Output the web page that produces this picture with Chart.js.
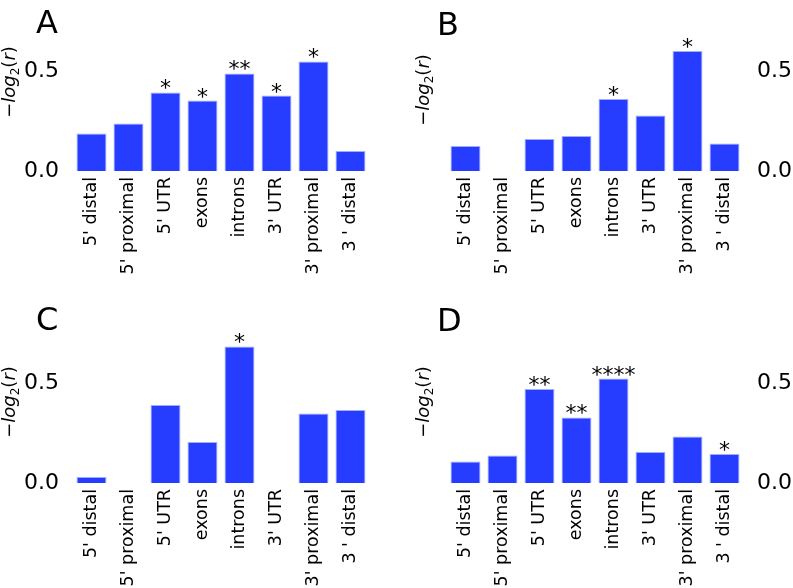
<!DOCTYPE html>
<html>
<head>
<meta charset="utf-8">
<script src="https://cdn.jsdelivr.net/npm/chart.js@4"></script>
<style>
  html, body { margin: 0; padding: 0; background: #fff; }
  #wrap { position: relative; width: 793px; height: 588px; overflow: hidden; font-family: "DejaVu Sans", sans-serif; }
  .panel { position: absolute; }
  .letter { position: absolute; font-size: 32px; color: #000; line-height: 1; }
  .ylab { position: absolute; font-size: 18px; color: #000; white-space: nowrap;
          transform: translate(-50%, -50%) rotate(-90deg); }
  .ylab sub { font-size: 12px; }
</style>
</head>
<body>
<div id="wrap">
  <div class="panel" style="left:0;top:0;width:393px;height:290px"><canvas id="chartA"></canvas></div>
  <div class="panel" style="left:393px;top:0;width:400px;height:290px"><canvas id="chartB"></canvas></div>
  <div class="panel" style="left:0;top:290px;width:393px;height:298px"><canvas id="chartC"></canvas></div>
  <div class="panel" style="left:393px;top:290px;width:400px;height:298px"><canvas id="chartD"></canvas></div>

  <div class="letter" style="left:36px;top:6px">A</div>
  <div class="letter" style="left:437px;top:8px">B</div>
  <div class="letter" style="left:36px;top:303px">C</div>
  <div class="letter" style="left:437px;top:304px">D</div>

  <div class="ylab" style="left:10px;top:82px">−<i>log</i><sub>2</sub>(<i>r</i>)</div>
  <div class="ylab" style="left:424px;top:90px">−<i>log</i><sub>2</sub>(<i>r</i>)</div>
  <div class="ylab" style="left:10px;top:402px">−<i>log</i><sub>2</sub>(<i>r</i>)</div>
  <div class="ylab" style="left:424px;top:402px">−<i>log</i><sub>2</sub>(<i>r</i>)</div>
</div>
<script>
var regions = ["5' distal", "5' proximal", "5' UTR", "exons", "introns", "3' UTR", "3' proximal", "3 ' distal"];

var valuesA = [0.187, 0.237, 0.393, 0.352, 0.488, 0.377, 0.548, 0.100];
var starsA  = ["", "", "*", "*", "**", "*", "*", ""];

var valuesB = [0.125, 0, 0.160, 0.175, 0.360, 0.278, 0.600, 0.137];
var starsB  = ["", "", "", "", "*", "", "*", ""];

var valuesC = [0.030, 0, 0.390, 0.205, 0.683, 0, 0.348, 0.365];
var starsC  = ["", "", "", "", "*", "", "", ""];

var valuesD = [0.107, 0.137, 0.470, 0.328, 0.522, 0.155, 0.232, 0.145];
var starsD  = ["", "", "**", "**", "****", "", "", "*"];

var yTicks = [0, 0.5];
var yMax = 0.7;
var barColor = "rgb(38,60,255)";

// draws significance stars above each bar
var starPlugin = {
    id: 'stars',
    afterDatasetsDraw: function (chart) {
        var stars = chart.options.plugins.stars.labels;
        var meta = chart.getDatasetMeta(0);
        var ctx = chart.ctx;
        ctx.save();
        ctx.font = '22px "DejaVu Sans"';
        ctx.fillStyle = '#000';
        ctx.textAlign = 'center';
        ctx.textBaseline = 'alphabetic';
        meta.data.forEach(function (bar, i) {
            if (stars[i]) ctx.fillText(stars[i], bar.x, bar.y + 3);
        });
        ctx.restore();
    }
};

function makeChart(id, values, stars, side, pad, axisH) {
    return new Chart(document.getElementById(id), {
        type: 'bar',
        data: {
            labels: regions,
            datasets: [{
                data: values,
                backgroundColor: barColor,
                borderColor: "rgba(150,165,255,0.9)",
                borderWidth: 1,
                barPercentage: 0.81,
                categoryPercentage: 1.0
            }]
        },
        options: {
            responsive: true,
            maintainAspectRatio: false,
            animation: false,
            layout: { padding: pad },
            plugins: {
                legend: { display: false },
                tooltip: { enabled: false },
                stars: { labels: stars }
            },
            scales: {
                x: {
                    grid: { display: false, drawTicks: false },
                    border: { display: false },
                    ticks: {
                        color: '#000',
                        font: { family: 'DejaVu Sans', size: 17.5 },
                        minRotation: 90,
                        maxRotation: 90,
                        autoSkip: false,
                        padding: 6
                    },
                    afterFit: function (scale) { scale.height = axisH; }
                },
                y: {
                    position: side,
                    min: 0,
                    max: yMax,
                    grid: { display: false, drawTicks: false },
                    border: { display: false },
                    afterBuildTicks: function (scale) {
                        scale.ticks = yTicks.map(function (v) { return { value: v }; });
                    },
                    ticks: {
                        color: '#000',
                        font: { family: 'DejaVu Sans', size: 22 },
                        padding: 14,
                        callback: function (v) { return v.toFixed(1); }
                    },
                    afterFit: function (scale) { scale.width = side === 'left' ? 73 : 50; }
                }
            }
        },
        plugins: [starPlugin]
    });
}

makeChart('chartA', valuesA, starsA, 'left',  { top: 31, right: 24, left: 0, bottom: 0 }, 119);
makeChart('chartB', valuesB, starsB, 'right', { top: 31, right: 0, left: 54, bottom: 0 }, 119);
makeChart('chartC', valuesC, starsC, 'left',  { top: 53, right: 24, left: 0, bottom: 0 }, 105);
makeChart('chartD', valuesD, starsD, 'right', { top: 53, right: 0, left: 54, bottom: 0 }, 105);
</script>
</body>
</html>
